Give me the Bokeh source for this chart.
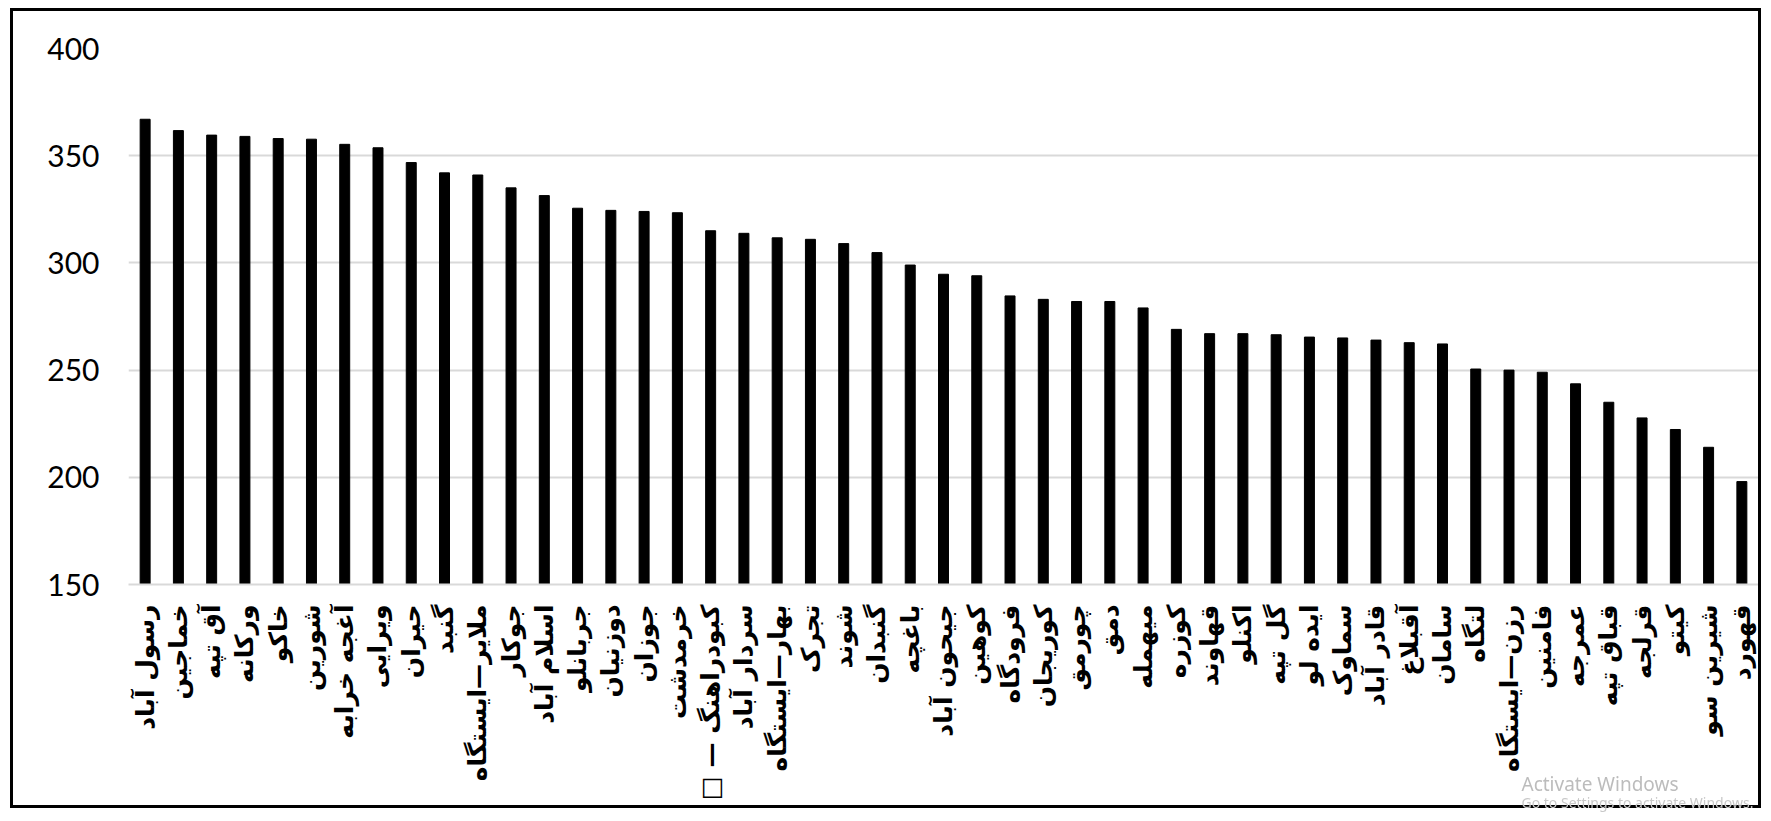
import math
from bokeh.plotting import figure
from bokeh.models import FactorRange, Range1d, FixedTicker
from bokeh.core.properties import value
from bokeh.embed import file_html
from bokeh.resources import INLINE

# ---- data ----
stations = [
    "رسول آباد", "خماجین", "آق تپه", "ورکانه", "خاکو", "شورین", "آغجه خرابه",
    "ویرایی", "حیران", "گنبد", "ملایر—ایستگاه", "جوکار", "اسلام آباد",
    "جربانلو", "دوزنیان", "جوزان", "خرمدشت", "کبودراهنگ — □\u200f", "سردار آباد",
    "بهار—ایستگاه", "تجرک", "شوند", "گنبدان", "باغچه", "جیحون آباد", "کوهین",
    "فرودگاه", "کوریجان", "چورمق", "دمق", "میهمله", "کوزره", "قهاوند", "اکنلو",
    "گل تپه", "ایده لو", "سماوک", "قادر آباد", "آقبلاغ", "سامان", "لتگاه",
    "رزن—ایستگاه", "فامنین", "عمرجه", "قباق تپه", "قرلجه", "کیتو",
    "شیرین سو", "قهورد",
]
values = [
    367.0, 361.7, 359.6, 359.0, 358.0, 357.7, 355.3, 353.7, 346.8, 342.0,
    341.0, 335.0, 331.4, 325.5, 324.5, 324.0, 323.4, 315.0, 313.8, 311.7,
    311.0, 309.0, 304.8, 299.0, 294.7, 294.0, 284.6, 283.0, 282.0, 282.0,
    279.0, 269.0, 267.0, 267.0, 266.5, 265.4, 265.0, 264.0, 262.8, 262.2,
    250.5, 250.0, 249.0, 243.6, 235.0, 227.7, 222.3, 214.0, 198.0,
]
y_ticks = [150, 200, 250, 300, 350, 400]
watermark_lines = ["Activate Windows", "Go to Settings to activate Windows."]

p = figure(
    x_range=FactorRange(factors=stations, range_padding=0),
    y_range=Range1d(150, 400),
    width=1751, height=800,
    output_backend="svg", toolbar_location=None,
    min_border_left=115, min_border_right=6,
    min_border_top=37, min_border_bottom=227,
)
p.styles = {"border": "3px solid black", "box-sizing": "border-box",
            "margin-left": "10px", "margin-top": "8px"}
p.outline_line_color = None
p.background_fill_color = "white"
p.border_fill_color = "white"

p.vbar(x=stations, top=values, bottom=150, width=0.3, color="black")

# grid
p.xgrid.grid_line_color = None
p.ygrid.grid_line_color = "#d9d9d9"
p.ygrid.grid_line_width = 2
p.yaxis.ticker = FixedTicker(ticks=y_ticks)

# y axis
p.yaxis.axis_line_color = None
p.yaxis.major_tick_line_color = None
p.yaxis.minor_tick_line_color = None
p.yaxis.major_label_standoff = 23
p.yaxis.major_label_text_font = "Lato"
p.yaxis.major_label_text_font_size = "30px"
p.yaxis.major_label_text_color = "black"

# x axis
p.xaxis.axis_line_color = "#d9d9d9"
p.xaxis.axis_line_width = 2
p.xaxis.major_tick_line_color = None
p.xaxis.minor_tick_line_color = None
p.xaxis.major_label_orientation = math.pi / 2
p.xaxis.major_label_standoff = 14
p.xaxis.major_label_text_font = "DejaVu Sans"
p.xaxis.major_label_text_font_style = "bold"
p.xaxis.major_label_text_font_size = "25px"
p.xaxis.major_label_text_color = "black"

# OS watermark overlay (as seen in the reference screenshot)
w = figure(width=250, height=56, output_backend="svg", toolbar_location=None,
           x_range=Range1d(0, 250), y_range=Range1d(56, 0),
           min_border=0, x_axis_type=None, y_axis_type=None)
w.grid.visible = False
w.outline_line_color = None
w.background_fill_color = None
w.border_fill_color = None
w.styles = {"position": "fixed", "left": "1515px", "top": "757px",
            "z-index": "10", "pointer-events": "none"}
w.text(x=[6], y=[26], text=[watermark_lines[0]], text_font=value("Noto Sans"),
       text_font_size="19px", text_color="#bcbcbc", text_baseline="alphabetic")
w.text(x=[6], y=[45], text=[watermark_lines[1]], text_font=value("Noto Sans"),
       text_font_size="14px", text_color="#c8c8c8", text_baseline="alphabetic")

open("out.html", "w").write(file_html([p, w], INLINE))
